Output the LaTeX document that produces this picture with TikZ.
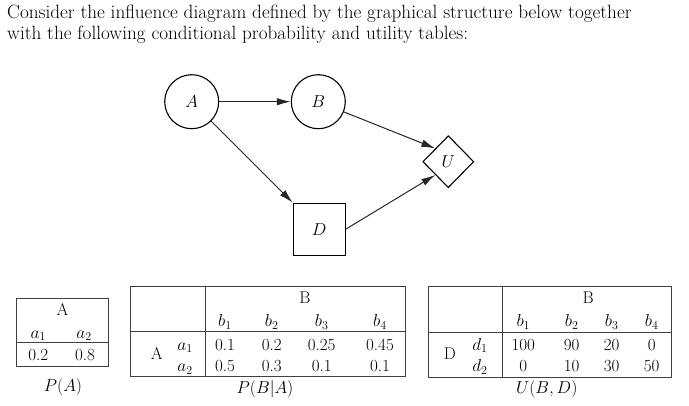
\documentclass[tikz,border=0pt]{standalone}
\usetikzlibrary{shapes.geometric,arrows.meta}
\begin{document}
\begin{tikzpicture}[x=1pt,y=-1pt,
  every node/.style={font=\fontsize{17}{20.4}\selectfont,inner sep=0pt},
  headtext/.style={anchor=base west,font=\fontsize{19.2}{20.6}\selectfont},
  chance/.style={draw,circle,line width=1.1pt,minimum size=54pt},
  decision/.style={draw,rectangle,line width=1.1pt,minimum size=52pt},
  utility/.style={draw,diamond,line width=1.1pt,minimum width=51pt,minimum height=52pt},
  link/.style={line width=1pt,draw=black!85,-{Latex[length=14pt,width=7.5pt]}},
  tabline/.style={line width=1pt,draw=black!75},
  cell/.style={anchor=base}]
\useasboundingbox (0,0) rectangle (689,405);
% heading
\node[headtext] (head1) at (7,18.3) {Consider the influence diagram defined by the graphical structure below together};
\node[headtext] (head2) at (7,39) {with the following conditional probability and utility tables:};
% graph
\node[chance] (A) at (191.7,101.7) {$A$};
\node[chance] (B) at (318.3,101.7) {$B$};
\node[utility] (U) at (448.3,161.7) {$U$};
\node[decision] (D) at (319.2,229.2) {$D$};
\draw[link] (A) -- (B);
\draw[link] (B) -- (U.north west);
\draw[link] (A) -- (D);
\draw[link] (D.east) -- (U.south west);
% table P(A)
\draw[tabline] (16.7,298.3) rectangle (108.3,366.7);
\draw[tabline] (16.7,342.7) -- (108.3,342.7);
\node[cell] (pa-h) at (62.5,315) {A};
\node[cell] (pa-a1) at (38.3,338.3) {$a_1$};
\node[cell] (pa-a2) at (84,338.3) {$a_2$};
\node[cell] (pa-v1) at (38.3,360) {0.2};
\node[cell] (pa-v2) at (85,360) {0.8};
\node[cell] (pa-cap) at (63,391.7) {$P(A)$};
% table P(B|A)
\draw[tabline] (130,286) rectangle (405,376.7);
\draw[tabline] (205,286) -- (205,376.7);
\draw[tabline] (130,331.7) -- (405,331.7);
\node[cell] (pb-h) at (305,303.3) {B};
\node[cell] (pb-b1) at (225,326.7) {$b_1$};
\node[cell] (pb-b2) at (271.7,326.7) {$b_2$};
\node[cell] (pb-b3) at (321.7,326.7) {$b_3$};
\node[cell] (pb-b4) at (380,326.7) {$b_4$};
\node[cell] (pb-A) at (156.7,359) {A};
\node[cell] (pb-a1) at (185,350) {$a_1$};
\node[cell] (pb-a2) at (185,371.7) {$a_2$};
\node[cell] (pb-11) at (225,350) {0.1};
\node[cell] (pb-12) at (271.7,350) {0.2};
\node[cell] (pb-13) at (321.7,350) {0.25};
\node[cell] (pb-14) at (380,350) {0.45};
\node[cell] (pb-21) at (225,371.7) {0.5};
\node[cell] (pb-22) at (271.7,371.7) {0.3};
\node[cell] (pb-23) at (321.7,371.7) {0.1};
\node[cell] (pb-24) at (380,371.7) {0.1};
\node[cell] (pb-cap) at (265,393) {$P(B|A)$};
% table U(B,D)
\draw[tabline] (428.3,286.7) rectangle (671.7,377.3);
\draw[tabline] (502.7,286.7) -- (502.7,377.3);
\draw[tabline] (428.3,332.7) -- (671.7,332.7);
\node[cell] (u-h) at (588.3,303.3) {B};
\node[cell] (u-b1) at (523.3,326.7) {$b_1$};
\node[cell] (u-b2) at (571.7,326.7) {$b_2$};
\node[cell] (u-b3) at (611.7,326.7) {$b_3$};
\node[cell] (u-b4) at (651.7,326.7) {$b_4$};
\node[cell] (u-D) at (450,359) {D};
\node[cell] (u-d1) at (480,350) {$d_1$};
\node[cell] (u-d2) at (480,371.7) {$d_2$};
\node[cell] (u-11) at (523.3,350) {100};
\node[cell] (u-12) at (571.7,350) {90};
\node[cell] (u-13) at (611.7,350) {20};
\node[cell] (u-14) at (651.7,350) {0};
\node[cell] (u-21) at (523.3,371.7) {0};
\node[cell] (u-22) at (571.7,371.7) {10};
\node[cell] (u-23) at (611.7,371.7) {30};
\node[cell] (u-24) at (651.7,371.7) {50};
\node[cell] (u-cap) at (546.7,393) {$U(B,D)$};
\end{tikzpicture}
\end{document}
